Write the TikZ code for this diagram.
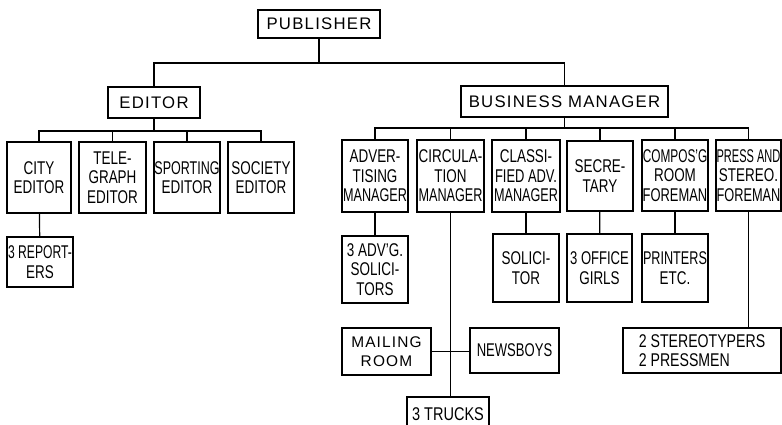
\documentclass[tikz,border=0pt]{standalone}
\usepackage{fontspec}
\usepackage{graphicx}
\setmainfont{Liberation Sans}[FakeStretch=0.73]
\newfontfamily\headfont{Liberation Sans}[LetterSpace=7.5]
\newcommand{\sq}[2][0.9]{\scalebox{#1}[1]{#2}}
\begin{document}
\begin{tikzpicture}[x=1bp,y=-1bp,
  box/.style={draw,line width=1.8bp,rectangle,inner sep=0pt,align=center,
    font=\fontsize{18.5}{19.5}\selectfont},
  headbox/.style={box,font=\headfont\fontsize{16.8}{19}\selectfont},
  link/.style={line width=1.2bp}]
\useasboundingbox (0,0) rectangle (782,424);
\clip (0,0) rectangle (782,424);

% top levels
\node[headbox,minimum width=122bp,minimum height=28bp] (pub) at (319,24) {PUBLISHER};
\node[headbox,minimum width=92bp,minimum height=31bp] (ed) at (154,102.5) {EDITOR};
\node[headbox,minimum width=207bp,minimum height=31bp] (bm) at (564.5,101.5) {BUSINESS MANAGER};

% editorial department
\node[box,minimum width=64bp,minimum height=71bp] (city) at (39,177.5) {CITY\\EDITOR};
\node[box,minimum width=67bp,minimum height=71bp] (tel) at (112.5,177.5) {TELE-\\GRAPH\\EDITOR};
\node[box,minimum width=66bp,minimum height=71bp] (spo) at (187,177.5) {\sq[0.93]{SPORTING}\\EDITOR};
\node[box,minimum width=66bp,minimum height=71bp] (soc) at (261,177.5) {SOCIETY\\EDITOR};
\node[box,minimum width=66bp,minimum height=50bp] (rep) at (40,262) {\sq{3 REPORT-}\\ERS};

% business department
\node[box,minimum width=66bp,minimum height=72bp] (adv) at (375,176) {ADVER-\\TISING\\\sq[0.94]{MANAGER}};
\node[box,minimum width=67bp,minimum height=72bp] (circ) at (450.5,176) {CIRCULA-\\TION\\\sq[0.94]{MANAGER}};
\node[box,minimum width=68bp,minimum height=72bp] (cls) at (526,176) {CLASSI-\\\sq[0.96]{FIED ADV.}\\\sq[0.94]{MANAGER}};
\node[box,minimum width=66bp,minimum height=70bp] (sec) at (600,176) {SECRE-\\TARY};
\node[box,minimum width=66bp,minimum height=71bp] (comp) at (675,175.5) {\sq[0.88]{COMPOS'G}\\ROOM\\\sq[0.96]{FOREMAN}};
\node[box,minimum width=65bp,minimum height=71bp] (press) at (748.5,175.5) {\sq[0.82]{PRESS AND}\\STEREO.\\\sq[0.95]{FOREMAN}};

\node[box,minimum width=66bp,minimum height=67bp] (advs) at (375,269.5) {3 ADV'G.\\SOLICI-\\TORS};
\node[box,minimum width=66bp,minimum height=68bp] (sol) at (526,268) {SOLICI-\\TOR};
\node[box,minimum width=65bp,minimum height=68bp] (off) at (599.5,268) {\sq[0.97]{3 OFFICE}\\GIRLS};
\node[box,minimum width=66bp,minimum height=68bp] (prt) at (675,268) {\sq[0.94]{PRINTERS}\\ETC.};

\node[box,font=\headfont\fontsize{15.5}{19}\selectfont,minimum width=89bp,minimum height=47bp] (mail) at (386.5,351.5) {MAILING\\ROOM};
\node[box,minimum width=89bp,minimum height=45bp] (news) at (514.5,350.5) {\sq[0.97]{NEWSBOYS}};
\node[box,minimum width=82bp,minimum height=34bp] (truck) at (448,414) {\sq[1.08]{3 TRUCKS}};
\node[box,minimum width=158bp,minimum height=45bp,align=left] (stereo) at (702,350.5)
  {\sq[1.05]{2 STEREOTYPERS}\\\sq[1.05]{2 PRESSMEN}};

% connectors: publisher to department heads
\draw[link] (pub.south) -- ++(0,24) coordinate (pj);
\draw[link] (ed.north) |- (pj) -| (bm.north);

% editor to the desk editors
\draw[link] (ed.south) -- ++(0,12) coordinate (ej);
\draw[link] (city.north) |- (ej) -| (soc.north);
\draw[link] (tel.north) |- (ej);
\draw[link] (spo.north) |- (ej);
\draw[link] (city) -- (rep);

% business manager to the department managers
\draw[link] (bm.south) -- ++(0,10) coordinate (bj);
\draw[link] (adv.north) |- (bj) -| (press.north);
\draw[link] (circ.north) |- (bj);
\draw[link] (cls.north) |- (bj);
\draw[link] (sec.north) |- (bj);
\draw[link] (comp.north) |- (bj);

\draw[link] (adv) -- (advs);
\draw[link] (cls) -- (sol);
\draw[link] (sec) -- (off);
\draw[link] (comp) -- (prt);
\draw[link] (circ.south) -- (circ.south |- truck.north);
\draw[link] (mail.east) -- (mail.east -| news.west);
\draw[link] (press.south) -- (press.south |- stereo.north);
\end{tikzpicture}
\end{document}
